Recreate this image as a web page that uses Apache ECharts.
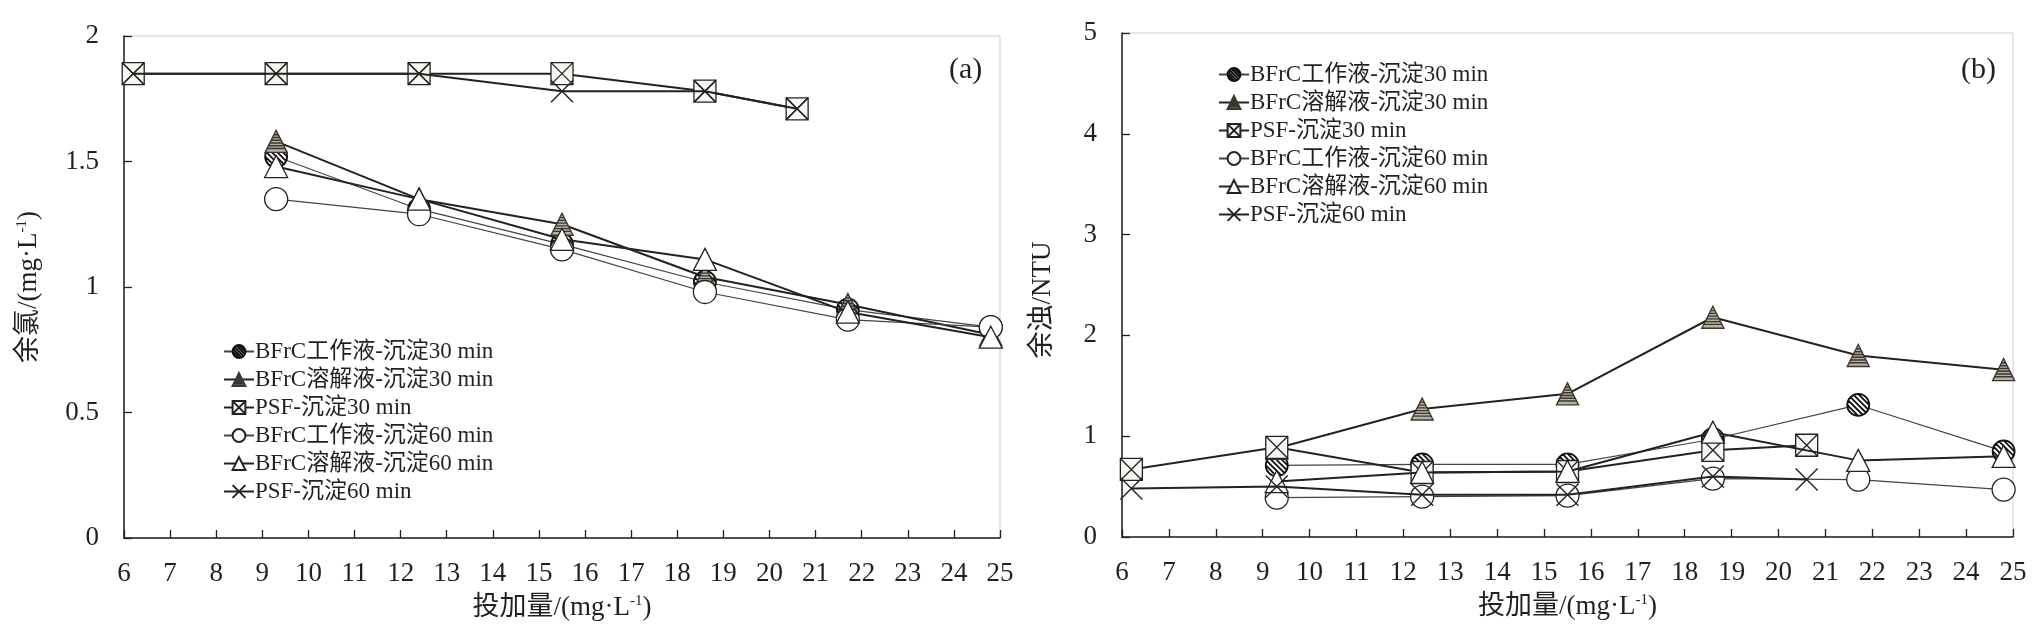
<!DOCTYPE html>
<html>
<head>
<meta charset="utf-8">
<script src="https://cdn.jsdelivr.net/npm/echarts@6/dist/echarts.min.js"></script>
<style>
  html, body { margin: 0; padding: 0; background: #fff; }
  #chart { width: 2034px; height: 637px; }
</style>
</head>
<body>
<div id="chart"></div>
<script>
// dose levels (mg/L)
var doses = [6.2, 9.3, 12.4, 15.5, 18.6, 21.7, 24.8];
var psfDoses = [6.2, 9.3, 12.4, 15.5, 18.6, 20.6];

var seriesNames = [
  'BFrC工作液-沉淀30 min',
  'BFrC溶解液-沉淀30 min',
  'PSF-沉淀30 min',
  'BFrC工作液-沉淀60 min',
  'BFrC溶解液-沉淀60 min',
  'PSF-沉淀60 min'
];

// (a) residual chlorine, mg/L
var workA30 = [null, 1.52, 1.31, 1.17, 1.02, 0.91, 0.84];
var dissA30 = [null, 1.58, 1.35, 1.25, 1.04, 0.93, 0.81];
var psfA30  = [1.85, 1.85, 1.85, 1.85, 1.78, 1.71];
var workA60 = [null, 1.35, 1.29, 1.15, 0.98, 0.87, 0.84];
var dissA60 = [null, 1.48, 1.35, 1.19, 1.11, 0.90, 0.80];
var psfA60  = [1.85, 1.85, 1.85, 1.78, 1.78, 1.71];

// (b) residual turbidity, NTU
var workB30 = [null, 0.71, 0.72, 0.72, 0.97, 1.31, 0.85];
var dissB30 = [null, 0.88, 1.27, 1.42, 2.18, 1.80, 1.66];
var psfB30  = [0.67, 0.89, 0.64, 0.65, 0.86, 0.91];
var workB60 = [null, 0.39, 0.40, 0.41, 0.58, 0.57, 0.47];
var dissB60 = [null, 0.55, 0.64, 0.65, 1.04, 0.76, 0.80];
var psfB60  = [0.48, 0.50, 0.42, 0.42, 0.60, 0.57];

var FONT = '"Liberation Serif", "Noto Sans CJK SC", serif';
var INK = '#231f20';

function pairs(xs, ys) {
  var out = [];
  for (var i = 0; i < xs.length; i++) {
    if (ys[i] != null) out.push([xs[i], ys[i]]);
  }
  return out;
}

// circle with "\\" hatching, drawn as one path (pattern fills get scaled with the symbol)
function hatchedCircle() {
  var p = 'path://M0,10 A10,10 0 1,1 20,10 A10,10 0 1,1 0,10 Z';
  var k = Math.SQRT1_2;
  [-7, -3.5, 0, 3.5, 7].forEach(function (c) {
    var h = Math.sqrt(100 - c * c) * 0.97;
    var mx = 10 + c * k, my = 10 - c * k;
    p += ' M' + (mx - h * k).toFixed(2) + ',' + (my - h * k).toFixed(2) +
         ' L' + (mx + h * k).toFixed(2) + ',' + (my + h * k).toFixed(2);
  });
  return p;
}

// triangle with horizontal stripes
function stripedTriangle() {
  var p = 'path://M10,0 L20,20 L0,20 Z';
  [4, 6.5, 9, 11.5, 14, 16.5].forEach(function (y) {
    var half = y / 2;
    p += ' M' + (10 - half).toFixed(2) + ',' + y + ' L' + (10 + half).toFixed(2) + ',' + y;
  });
  return p;
}

var squareX = 'path://M0,0 L10,0 L10,10 L0,10 Z M0,0 L10,10 M10,0 L0,10';
var crossX = 'path://M0,0 L10,10 M10,0 L0,10';

var styles = [
  {symbol: hatchedCircle(), size: 22, fill: '#fff', border: '#111', bw: 1.8, width: 1.2, color: '#444'},
  {symbol: stripedTriangle(), size: 22, fill: '#b9b1a3', border: '#3b362f', bw: 1.4, width: 2, color: '#222'},
  {symbol: squareX, size: 22, fill: '#f7f7f3', border: '#222', bw: 1.3, width: 2, color: '#222'},
  {symbol: 'circle', size: 23, fill: '#fff', border: '#222', bw: 1.3, width: 1.2, color: '#444'},
  {symbol: 'triangle', size: [23, 22], fill: '#fff', border: '#222', bw: 1.3, width: 2, color: '#222'},
  {symbol: crossX, size: 22, fill: 'none', border: '#222', bw: 1.4, width: 2, color: '#222'}
];

function makeSeries(idx, data, gridIdx) {
  var s = styles[idx];
  return {
    name: seriesNames[idx],
    type: 'line',
    xAxisIndex: gridIdx,
    yAxisIndex: gridIdx,
    data: data,
    symbol: s.symbol,
    symbolSize: s.size,
    showAllSymbol: true,
    lineStyle: {color: s.color, width: s.width},
    itemStyle: {color: s.fill, borderColor: s.border, borderWidth: s.bw},
    emphasis: {disabled: true},
    z: 2 + idx
  };
}

var seriesA = [
  makeSeries(0, pairs(doses, workA30), 0),
  makeSeries(1, pairs(doses, dissA30), 0),
  makeSeries(2, pairs(psfDoses, psfA30), 0),
  makeSeries(3, pairs(doses, workA60), 0),
  makeSeries(4, pairs(doses, dissA60), 0),
  makeSeries(5, pairs(psfDoses, psfA60), 0)
];
var seriesB = [
  makeSeries(0, pairs(doses, workB30), 1),
  makeSeries(1, pairs(doses, dissB30), 1),
  makeSeries(2, pairs(psfDoses, psfB30), 1),
  makeSeries(3, pairs(doses, workB60), 1),
  makeSeries(4, pairs(doses, dissB60), 1),
  makeSeries(5, pairs(psfDoses, psfB60), 1)
];

var nameRich = {
  t: {fontFamily: FONT, fontSize: 27, color: INK},
  sup: {fontFamily: FONT, fontSize: 15, color: INK, verticalAlign: 'top', padding: [0, 0, 12, 0]}
};

function xAxisDef(gridIdx) {
  return {
    type: 'value',
    gridIndex: gridIdx,
    min: 6, max: 25, interval: 1,
    name: '{t|投加量/(mg·L}{sup|-1}{t|)}',
    nameLocation: 'middle',
    nameGap: 56,
    nameTextStyle: {rich: nameRich},
    axisLine: {lineStyle: {color: INK, width: 1.5}},
    axisTick: {inside: true, length: 8, lineStyle: {color: INK, width: 1.3}},
    axisLabel: {fontFamily: FONT, fontSize: 27, color: INK, margin: 22},
    splitLine: {show: false}
  };
}

function yAxisDef(gridIdx, max, interval, name, gap, pad) {
  return {
    type: 'value',
    gridIndex: gridIdx,
    min: 0, max: max, interval: interval,
    name: name,
    nameLocation: 'middle',
    nameGap: gap,
    nameTextStyle: {rich: nameRich, padding: pad},
    axisLine: {show: true, lineStyle: {color: INK, width: 1.5}},
    axisTick: {show: true, inside: true, length: 8, lineStyle: {color: INK, width: 1.3}},
    axisLabel: {fontFamily: FONT, fontSize: 27, color: INK, margin: 25},
    splitLine: {show: false}
  };
}

function legendDef(left, top, gap) {
  return {
    left: left, top: top,
    orient: 'vertical',
    itemWidth: 30, itemHeight: 16, itemGap: gap,
    data: seriesNames,
    selectedMode: false,
    textStyle: {fontFamily: FONT, fontSize: 23, color: INK, padding: [0, 0, 0, -4]}
  };
}

var chart = echarts.init(document.getElementById('chart'), null, {renderer: 'canvas'});

chart.setOption({
  animation: false,
  backgroundColor: '#fff',
  title: [
    {text: '(a)', left: 944, top: 50, textStyle: {fontFamily: FONT, fontSize: 30, fontWeight: 'normal', color: INK}},
    {text: '(b)', left: 1956, top: 50, textStyle: {fontFamily: FONT, fontSize: 30, fontWeight: 'normal', color: INK}}
  ],
  grid: [
    {left: 124, top: 36, width: 876, height: 502, show: true, borderColor: '#cfcfcf', borderWidth: 1, backgroundColor: 'transparent'},
    {left: 1122, top: 33, width: 891, height: 504, show: true, borderColor: '#cfcfcf', borderWidth: 1, backgroundColor: 'transparent'}
  ],
  legend: [
    legendDef(218, 335, 5),
    legendDef(1213, 58, 5)
  ],
  xAxis: [xAxisDef(0), xAxisDef(1)],
  yAxis: [
    yAxisDef(0, 2, 0.5, '{t|余氯/(mg·L}{sup|-1}{t|)}', 82, [0, 0, 0, 0]),
    yAxisDef(1, 5, 1, '{t|余浊/NTU}', 66, [0, 30, 0, 0])
  ],
  series: seriesA.concat(seriesB)
});
</script>
</body>
</html>
